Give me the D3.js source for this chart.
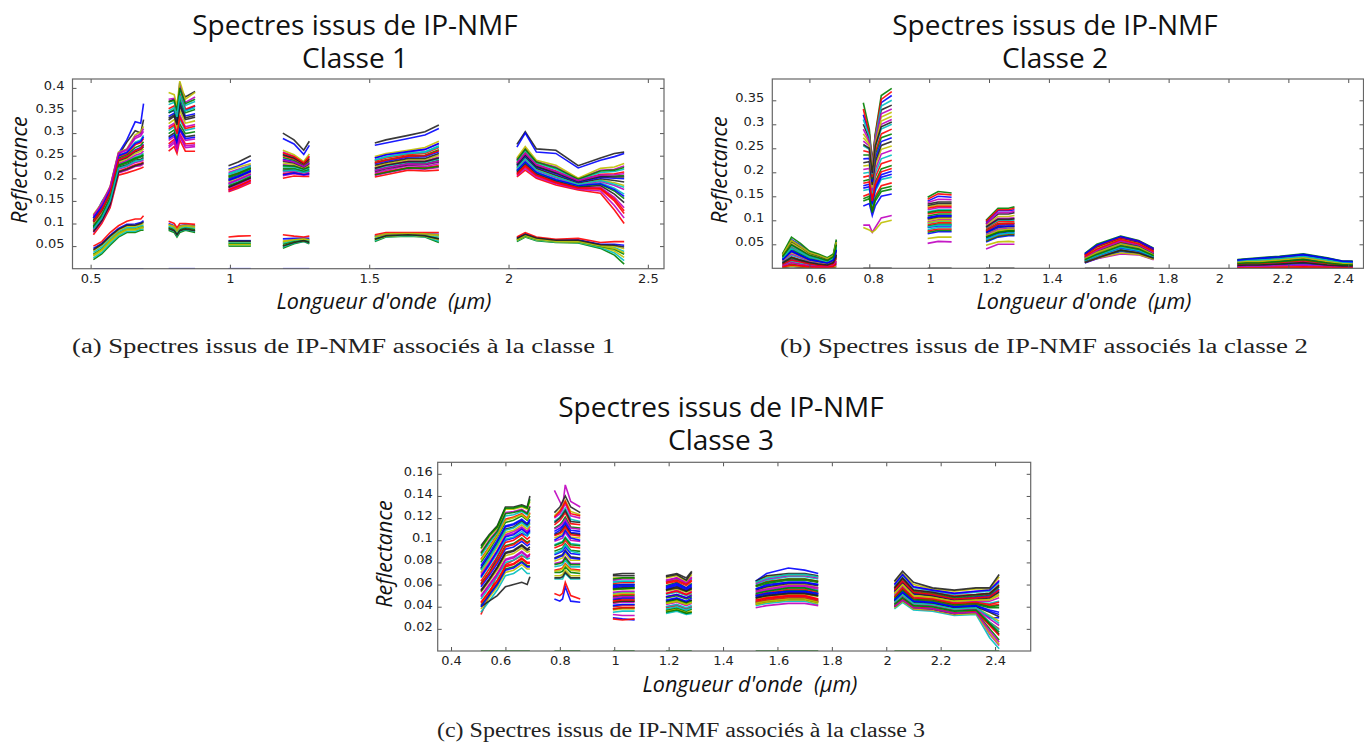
<!DOCTYPE html>
<html lang="fr">
<head>
<meta charset="utf-8">
<title>Spectres issus de IP-NMF</title>
<script src="https://cdn.jsdelivr.net/npm/d3@7/dist/d3.min.js"></script>
<style>
html,body{margin:0;padding:0;background:#fff;overflow:hidden}
svg{display:block}
.tick text{font-family:"DejaVu Sans",sans-serif;font-size:13px;fill:#222}
.tick line{stroke:#555;stroke-width:1}
.title{font-family:"Open Sans",sans-serif;font-size:28px;fill:#111;text-anchor:middle}
.axlabel{font-family:"Open Sans",sans-serif;font-style:italic;font-size:21.5px;fill:#111}
.caption{font-family:"Liberation Serif",serif;font-size:20px;fill:#222}
</style>
</head>
<body>
<svg id="chart" width="1364" height="742"></svg>
<script>
// Wavelengths (µm) of the sampled points, one list per spectral band
const bandWavelengths = [
  [0.51,0.54,0.57,0.60,0.63,0.66,0.68,0.69],
  [0.78,0.80,0.81,0.82,0.84,0.875],
  [0.995,1.03,1.075],
  [1.19,1.23,1.265,1.285],
  [1.52,1.56,1.64,1.70,1.75],
  [2.03,2.06,2.10,2.17,2.25,2.33,2.38,2.415]
];
// Line colours cycle
const lineColors = ["#0000ff","#008000","#ff0000","#00bfbf","#bf00bf","#bfbf00","#222222"];

const titleLine1 = "Spectres issus de IP-NMF";
const classTitles = ["Classe 1","Classe 2","Classe 3"];
const xAxisLabel = "Longueur d'onde  (μm)";
const yAxisLabel = "Reflectance";
const captions = [
  "(a) Spectres issus de IP-NMF associés à la classe 1",
  "(b) Spectres issus de IP-NMF associés la classe 2",
  "(c) Spectres issus de IP-NMF associés à la classe 3"
];

const xTicks1 = [0.5,1,1.5,2,2.5];
const yTicks1 = [0.05,0.1,0.15,0.2,0.25,0.3,0.35,0.4];
const xTicks2 = [0.6,0.8,1,1.2,1.4,1.6,1.8,2,2.2,2.4];
const yTicks2 = [0.05,0.1,0.15,0.2,0.25,0.3,0.35];
const xTicks3 = [0.4,0.6,0.8,1,1.2,1.4,1.6,1.8,2,2.2,2.4];
const yTicks3 = [0.02,0.04,0.06,0.08,0.1,0.12,0.14,0.16];

// Spectra: reflectance in thousandths, 34 samples each
const spectraClasse1 = [
[0,0,0,0,0,0,0,0,0,0,0,0,0,0,0,0,0,0,0,0,0,0,0,0,0,0,0,0,0,0,0,0,0,0],
[20,33,52,70,80,80,85,85,85,80,70,80,85,80,50,50,50,45,55,60,55,60,70,72,70,58,60,70,62,58,57,45,30,10],
[75,100,135,207,212,218,222,225,260,270,255,285,260,260,170,178,190,200,205,204,204,203,208,218,216,218,203,218,200,185,174,167,130,100],
[24,36,56,73,83,83,88,88,88,83,73,83,87,83,52,52,52,48,57,61,57,62,71,73,71,61,62,71,63,59,58,47,35,18],
[80,104,140,212,218,226,228,232,268,278,262,292,268,270,172,180,193,206,210,207,208,206,212,222,220,224,206,222,203,188,176,172,140,112],
[28,40,60,76,86,86,90,90,90,85,76,85,89,85,54,54,54,51,59,62,59,64,72,74,72,64,63,72,64,60,59,49,39,25],
[105,140,176,250,280,305,300,330,370,375,345,400,380,392,228,236,250,300,285,262,282,278,285,295,303,318,275,303,265,262,228,245,255,258],
[112,148,178,255,285,325,322,365,345,350,330,412,350,360,220,228,240,288,276,253,273,273,278,288,296,310,269,300,258,255,223,240,248,255],
[32,44,63,79,88,88,92,93,92,87,78,87,91,87,56,56,56,54,61,63,61,66,73,75,73,67,64,73,65,61,60,50,43,32],
[84,108,144,216,222,230,233,236,276,286,268,298,276,278,175,184,196,210,213,209,211,209,215,224,224,228,208,226,206,190,178,176,150,122],
[36,48,66,82,91,91,95,96,94,90,80,90,93,90,58,58,58,57,63,65,63,68,74,76,74,70,65,74,66,61,61,51,47,38],
[86,110,148,220,226,235,238,240,284,292,275,305,284,287,178,187,199,214,216,212,214,212,218,228,226,232,211,229,208,192,180,180,158,135],
[40,52,70,85,94,94,98,100,97,92,83,92,95,92,60,60,60,61,65,66,65,70,76,77,76,73,66,75,67,62,62,52,50,44],
[90,114,151,224,230,240,242,246,292,300,282,312,292,295,181,190,202,218,219,214,217,215,221,230,230,236,213,232,210,194,181,184,165,146],
[45,56,74,89,98,99,102,106,100,95,86,95,97,95,62,62,62,66,67,68,67,72,77,78,77,76,68,77,68,63,64,54,54,52],
[92,116,154,227,234,243,247,250,299,307,288,320,299,303,184,192,205,222,222,216,220,218,224,233,232,240,216,235,212,196,183,187,172,155],
[50,60,80,95,105,110,110,117,105,100,90,100,100,98,70,72,73,75,72,70,72,75,80,80,80,80,70,80,70,65,67,58,60,60],
[95,120,157,230,237,247,251,255,306,314,295,330,306,311,187,195,208,226,225,219,223,220,227,236,235,243,218,238,214,198,184,190,178,165],
[98,122,160,233,240,251,255,260,314,322,302,340,314,319,190,198,210,230,228,221,226,223,230,238,238,247,221,241,217,201,186,193,184,175],
[100,125,163,236,243,255,260,265,321,330,310,350,322,327,193,201,213,234,231,223,229,226,232,241,241,251,224,244,220,204,188,196,190,184],
[103,128,166,239,246,259,264,270,329,337,318,360,330,335,196,204,216,238,234,225,232,229,235,244,244,255,226,247,222,207,190,199,195,192],
[105,131,169,242,249,263,268,275,337,344,325,370,338,343,199,206,218,242,237,227,235,232,238,247,248,259,229,250,225,210,192,202,200,199],
[108,134,172,245,252,268,273,281,345,352,333,378,345,352,202,209,221,246,240,229,238,235,241,250,251,263,232,253,228,213,194,205,205,206],
[111,137,175,248,255,274,279,288,354,360,340,388,353,361,205,212,224,250,243,231,241,238,245,253,255,268,235,257,231,216,196,209,210,214],
[113,139,177,251,258,280,285,295,363,368,347,396,361,370,208,215,226,254,246,233,245,241,248,256,259,272,238,261,234,220,197,213,215,220],
[116,142,180,255,262,288,294,304,375,377,354,405,368,380,213,220,229,258,249,235,250,245,252,259,264,277,242,266,237,225,199,218,220,227],
[120,145,182,258,265,296,303,315,390,385,360,415,375,390,218,225,232,262,252,237,254,248,255,262,268,282,245,270,240,229,200,222,225,233],
[82,106,142,214,220,228,231,234,333,340,322,365,334,339,180,189,201,252,245,232,243,222,229,237,237,245,230,252,226,212,193,204,203,203],
[112,138,176,250,257,277,282,292,288,296,278,308,288,291,195,203,215,208,212,208,210,245,252,259,264,277,217,236,213,197,184,188,175,160],
[94,118,156,229,236,245,249,252,369,372,350,400,365,375,204,211,223,228,227,220,225,208,213,223,222,226,240,264,236,223,198,216,218,224],
[104,130,168,241,248,261,266,273,310,318,298,335,310,315,174,182,195,256,248,234,248,234,240,249,250,261,210,228,207,191,179,178,154,128],
[88,112,150,222,228,238,240,243,349,356,336,383,349,356,210,218,228,216,218,213,216,240,247,255,257,270,222,243,218,203,187,195,187,180],
[118,143,181,256,264,292,298,310,272,282,265,295,272,274,188,197,209,240,236,226,234,217,223,232,231,238,234,255,230,215,195,207,208,210],
[30,42,62,78,87,87,91,92,98,94,85,94,96,94,53,53,53,59,64,66,64,71,77,78,77,75,64,74,66,61,60,51,45,35],
[42,54,72,87,96,96,100,103,89,84,75,84,88,84,61,61,61,50,58,62,58,65,73,75,73,66,67,76,68,63,63,53,52,48]
];
const spectraClasse2 = [
[2,5,3,2,1,1,3,8,130,135,110,130,150,155,72,76,76,55,65,68,68,11,20,35,30,19,1,2,2,3,4,2,1,1],
[4,9,6,4,3,2,5,12,140,145,116,140,160,165,75,79,79,57,67,70,70,12,22,37,32,20,2,3,3,4,5,3,2,2],
[6,12,9,6,4,3,7,16,150,155,122,150,172,178,78,82,82,59,69,72,72,13,23,39,33,21,3,4,4,5,7,4,3,3],
[7,15,11,8,5,4,8,20,162,165,130,160,185,190,81,85,85,61,71,74,74,14,25,41,35,22,4,5,5,7,8,5,4,3],
[3,6,4,2,2,1,2,5,90,90,75,85,105,110,52,56,55,40,50,50,50,12,20,30,28,18,2,3,3,3,4,2,2,2],
[2,5,3,2,1,1,2,4,85,80,75,80,95,100,62,65,65,48,55,56,55,13,21,32,29,19,1,2,2,3,3,2,1,1],
[0,0,0,0,0,0,0,0,0,0,0,0,0,0,0,0,0,0,0,0,0,0,0,0,0,0,0,0,0,0,0,0,0,0],
[9,18,14,9,7,5,10,24,172,175,136,170,195,202,85,88,88,63,73,76,76,15,26,43,36,23,5,6,6,8,10,6,4,4],
[10,21,16,11,8,6,11,27,182,185,143,180,207,214,88,92,92,65,75,78,78,16,27,45,38,24,6,7,7,9,12,7,5,5],
[12,24,18,12,10,7,12,30,190,193,150,190,218,225,91,95,95,67,77,80,80,17,28,46,39,25,7,8,8,10,13,8,6,5],
[13,27,21,14,11,8,14,33,198,200,156,198,228,236,94,98,98,69,79,82,82,18,30,48,41,26,8,9,9,11,15,9,6,6],
[15,30,23,15,12,9,15,35,206,208,162,206,238,246,97,101,101,71,82,84,84,19,31,49,42,27,8,10,10,12,16,10,7,6],
[16,33,25,17,13,10,16,37,213,215,168,214,248,255,100,104,104,73,84,86,86,20,32,50,44,28,9,11,11,13,18,11,7,7],
[18,36,27,18,15,11,17,39,220,222,174,222,256,264,103,107,107,75,87,88,88,21,33,52,45,29,10,12,12,15,19,12,8,8],
[19,38,29,20,16,12,19,41,228,229,180,230,264,272,106,110,110,77,90,91,91,22,35,53,46,30,11,13,13,16,20,13,9,8],
[21,41,31,22,18,13,20,43,236,236,186,238,272,280,109,113,113,80,93,94,94,23,36,55,48,32,12,14,14,17,22,14,10,9],
[22,44,34,24,19,14,21,45,245,242,190,244,280,290,113,117,117,83,97,97,97,24,38,56,49,33,13,15,15,18,23,15,10,10],
[23,47,36,26,21,15,23,47,255,248,196,252,290,300,118,122,122,85,100,100,100,25,39,58,50,34,14,16,16,19,24,16,11,11],
[25,50,39,28,23,16,24,50,265,255,200,258,300,310,122,126,126,88,104,104,105,26,41,59,52,35,15,17,17,20,25,17,12,12],
[26,53,42,30,25,18,26,52,280,262,206,265,315,325,128,132,132,90,108,108,110,27,43,61,53,36,16,18,18,21,26,18,13,13],
[27,56,45,32,26,19,27,54,300,270,210,270,330,340,134,138,138,93,113,113,116,28,45,63,55,38,17,18,19,22,27,19,14,13],
[29,60,48,34,28,20,28,57,320,280,215,275,345,360,140,150,148,96,120,120,122,29,47,65,56,39,17,19,20,24,28,21,14,14],
[30,65,52,36,30,22,30,60,345,290,220,280,360,375,148,160,157,100,125,125,128,31,50,67,58,42,18,20,22,25,30,22,15,15],
[8,17,13,9,6,5,9,22,332,280,218,277,352,368,144,155,153,98,122,122,125,28,46,64,57,40,8,10,10,12,16,10,7,6],
[21,42,33,23,19,14,21,44,310,275,212,272,338,350,86,90,90,60,70,73,73,16,26,44,37,24,15,17,17,20,25,17,12,12],
[5,12,8,5,3,3,5,14,290,265,208,267,322,332,137,144,143,92,116,116,119,23,37,57,49,33,3,4,4,5,7,4,3,3],
[28,58,46,33,27,20,27,55,272,258,203,261,307,317,95,99,99,68,78,81,81,20,33,51,44,28,12,14,14,17,22,14,10,9],
[11,23,17,12,9,7,12,28,258,250,198,255,295,305,131,135,135,86,102,102,103,12,21,38,32,21,6,7,7,9,12,7,5,5],
[17,35,26,18,14,11,17,38,167,170,133,165,190,196,105,109,109,74,85,87,87,30,48,66,57,41,17,19,21,24,29,21,15,14],
[24,49,38,27,22,16,24,49,145,150,119,145,166,171,116,120,120,65,75,78,78,18,29,47,40,26,10,11,11,14,18,11,8,7],
[3,7,5,3,2,2,4,10,177,180,140,175,201,208,125,129,129,78,92,93,93,25,40,60,51,35,1,1,1,2,3,2,1,1]
];
const spectraClasse3 = [
[60,70,85,100,102,106,104,108,47,45,47,58,45,44,30,29,28,45,47,44,46,50,52,54,54,52,45,52,44,43,39,40,30,30],
[0,0,0,0,0,0,0,0,0,0,0,0,0,0,0,0,0,0,0,0,0,0,0,0,0,0,0,0,0,0,0,0,0,0],
[33,50,70,78,82,86,84,88,52,50,52,62,50,47,29,28,29,36,38,34,35,42,44,46,46,44,42,50,42,41,37,38,26,20],
[35,45,55,68,70,75,70,70,65,65,65,70,65,65,35,36,36,34,36,33,34,41,43,45,45,42,38,44,37,36,32,33,12,2],
[70,80,90,105,108,112,108,112,145,135,130,150,135,130,33,32,32,40,42,38,40,39,41,43,43,41,40,46,38,37,33,35,15,5],
[38,48,58,71,73,78,74,74,68,68,69,73,68,68,37,38,38,36,38,35,36,42,44,46,46,43,39,45,38,37,33,34,16,6],
[40,45,50,58,60,62,60,67,66,66,67,71,66,66,69,70,70,68,70,66,72,44,46,48,48,45,40,47,40,38,34,36,24,15],
[75,86,98,112,114,118,114,118,106,109,112,115,107,106,57,58,58,56,59,55,58,63,70,75,73,70,53,62,51,50,46,48,49,54],
[41,51,61,74,76,81,77,77,71,71,72,76,71,70,38,39,39,37,39,36,38,43,45,47,47,44,40,46,39,38,34,35,20,10],
[44,54,64,77,79,84,80,80,73,74,75,79,74,73,40,41,41,39,41,38,40,44,46,48,48,45,41,47,40,39,35,36,23,14],
[47,57,67,80,82,87,83,84,76,77,78,82,76,76,41,42,42,40,42,39,41,45,47,49,49,46,42,49,41,40,36,37,26,19],
[50,60,70,83,85,90,86,87,79,80,81,85,79,79,43,44,44,42,44,41,43,46,48,50,50,47,43,50,42,41,37,38,29,23],
[53,63,73,86,88,93,89,90,81,83,84,88,82,82,44,45,45,43,45,42,44,47,49,51,51,49,44,51,43,42,38,39,32,27],
[55,65,76,89,91,96,92,94,84,86,87,91,85,84,46,47,47,45,47,44,46,48,50,52,52,50,45,52,44,43,39,40,35,31],
[58,68,79,92,94,99,95,97,87,89,90,94,88,87,47,48,48,46,48,45,48,49,51,53,53,51,46,54,45,44,40,41,37,35],
[61,71,82,95,97,102,98,100,90,92,93,97,91,90,49,50,50,48,50,47,49,50,52,55,55,52,47,55,46,45,41,42,39,39],
[63,74,85,98,100,105,101,103,93,95,96,100,94,93,50,51,51,49,51,48,51,51,53,56,56,53,49,56,47,46,42,43,41,42],
[66,77,88,101,103,108,104,107,96,98,99,103,97,96,52,53,53,51,53,50,52,52,54,57,57,55,50,58,48,47,43,44,43,45],
[68,79,91,104,106,111,107,110,99,101,102,107,100,99,53,54,54,52,55,51,54,53,55,58,58,56,51,59,49,48,44,45,45,48],
[71,82,94,107,109,114,110,113,102,104,106,110,103,102,55,56,56,54,56,53,55,54,57,60,60,57,52,60,50,49,45,46,47,51],
[74,85,97,110,112,117,113,116,105,107,110,113,106,105,56,57,57,55,58,54,57,55,58,61,61,59,54,62,52,50,46,47,48,53],
[77,88,100,113,115,119,115,119,108,111,113,117,109,108,58,59,59,57,60,56,59,56,60,62,62,60,55,63,53,51,47,49,50,56],
[80,91,103,116,118,122,118,122,111,114,117,121,112,111,60,60,60,59,62,57,61,58,61,64,64,62,56,65,54,52,48,50,51,58],
[83,94,105,119,121,124,120,125,114,118,121,125,115,114,61,62,62,61,63,59,63,59,63,65,65,63,57,66,55,53,50,51,52,60],
[86,97,107,122,123,126,123,128,117,121,125,129,119,117,63,63,63,62,65,60,65,60,64,67,67,65,59,68,57,54,51,53,54,62],
[89,100,109,125,126,128,125,131,120,124,128,133,122,120,64,65,65,64,66,62,67,61,65,68,68,66,60,69,58,55,52,54,55,64],
[92,103,111,128,128,130,128,135,122,127,131,136,126,123,66,66,66,66,68,63,69,62,67,69,69,67,62,70,60,56,54,56,56,67],
[95,105,113,130,130,132,130,140,125,130,135,140,130,125,68,68,68,67,69,64,71,63,68,70,70,68,63,72,62,57,55,57,57,69],
[40,50,60,73,75,80,76,76,100,103,104,109,102,100,41,42,42,58,61,57,60,50,52,54,54,52,60,69,58,55,52,54,55,63],
[88,99,108,124,125,127,124,130,78,79,80,84,78,78,56,56,57,44,46,43,45,59,62,65,65,63,48,56,47,46,42,43,40,41],
[60,70,81,94,96,101,97,99,121,126,130,135,124,122,38,39,39,52,54,51,53,45,47,49,49,46,55,63,53,51,47,48,49,55],
[73,84,96,109,111,116,112,115,88,90,92,96,90,88,62,63,63,38,40,37,39,62,66,69,69,67,44,51,43,42,38,39,31,25],
[49,59,69,82,84,89,85,86,110,113,115,119,111,110,48,49,49,63,66,61,66,54,56,59,59,57,40,46,39,38,34,35,18,8],
[82,93,104,118,120,123,119,124,72,73,74,78,73,72,51,52,52,43,45,42,44,43,45,47,47,44,52,60,50,48,45,46,46,50],
[54,64,75,88,90,95,91,92,116,120,123,127,117,116,44,45,45,55,57,54,56,48,50,52,52,50,57,66,55,53,49,51,52,59],
[67,78,90,103,105,110,106,109,83,85,86,90,84,83,59,60,60,49,51,48,50,56,59,62,62,60,46,53,45,44,40,41,36,33],
[93,104,112,129,129,131,129,137,95,97,98,102,96,95,65,66,66,35,37,34,35,52,54,57,57,54,42,48,41,40,36,37,25,17],
[43,53,63,76,78,83,79,79,104,106,108,112,105,104,45,46,46,62,64,60,64,46,48,50,50,47,49,57,48,47,43,44,42,44]
];

const svg = d3.select("#chart");
const defs = svg.append("defs");
defs.append("filter").attr("id","soft")
  .attr("x","-5%").attr("y","-5%").attr("width","110%").attr("height","110%")
  .append("feGaussianBlur").attr("stdDeviation",0.45);

function drawPanel(opts){
  const {left,right,top,bottom,xd,yd,xTicks,yTicks,spectra,idx,xLabelDx,padLeft,
         titleX,titleY,xLabelX,xLabelY,yLabelX,yLabelY,capX,capY,capW} = opts;
  const x = d3.scaleLinear().domain(xd).range([left,right]);
  const y = d3.scaleLinear().domain(yd).range([bottom,top]);
  const g = svg.append("g");

  const clipId = "clip"+idx;
  defs.append("clipPath").attr("id",clipId).append("rect")
    .attr("x",left).attr("y",top).attr("width",right-left).attr("height",bottom-top);

  const line = d3.line().x(d=>x(d[0])).y(d=>y(d[1]/1000));
  const marks = g.append("g").attr("clip-path",`url(#${clipId})`)
    .append("g").attr("filter","url(#soft)");
  spectra.forEach((row,i)=>{
    let offset = 0;
    bandWavelengths.forEach(band=>{
      const pts = band.map((w,k)=>[w,row[offset+k]]);
      offset += band.length;
      marks.append("path").attr("d",line(pts)).attr("fill","none")
        .attr("stroke",lineColors[i%lineColors.length])
        .attr("stroke-width",1.6).attr("stroke-opacity",0.9);
    });
  });

  const fmt = d=>String(d);
  const ax = g.append("g").attr("transform",`translate(0,${bottom})`)
    .call(d3.axisBottom(x).tickValues(xTicks).tickFormat(fmt).tickSizeInner(-4).tickSizeOuter(0).tickPadding(5));
  ax.select(".domain").remove();
  ax.selectAll(".tick text").attr("dx",(d,i)=>xLabelDx ? xLabelDx[i] : 0);
  const axt = g.append("g").attr("transform",`translate(0,${top})`)
    .call(d3.axisTop(x).tickValues(xTicks).tickFormat("").tickSizeInner(-4).tickSizeOuter(0));
  axt.select(".domain").remove();
  const ay = g.append("g").attr("transform",`translate(${left},0)`)
    .call(d3.axisLeft(y).tickValues(yTicks).tickFormat(fmt).tickSizeInner(-4).tickSizeOuter(0).tickPadding(padLeft));
  ay.select(".domain").remove();
  ay.selectAll(".tick text").attr("dy","0.12em");
  const ayr = g.append("g").attr("transform",`translate(${right},0)`)
    .call(d3.axisRight(y).tickValues(yTicks).tickFormat("").tickSizeInner(-4).tickSizeOuter(0));
  ayr.select(".domain").remove();

  g.append("rect").attr("x",left).attr("y",top).attr("width",right-left).attr("height",bottom-top)
    .attr("fill","none").attr("stroke","#666").attr("stroke-width",1.2);

  g.append("text").attr("class","title").attr("x",titleX).attr("y",titleY).text(titleLine1);
  g.append("text").attr("class","title").attr("x",titleX).attr("y",titleY+32.5).text(classTitles[idx]);
  g.append("text").attr("class","axlabel").attr("x",xLabelX).attr("y",xLabelY)
    .attr("text-anchor","middle").style("white-space","pre").text(xAxisLabel);
  g.append("text").attr("class","axlabel").attr("text-anchor","middle")
    .attr("transform",`translate(${yLabelX},${yLabelY}) rotate(-90)`).text(yAxisLabel);
  g.append("text").attr("class","caption").attr("x",capX).attr("y",capY)
    .attr("textLength",capW).attr("lengthAdjust","spacingAndGlyphs").text(captions[idx]);
}

drawPanel({idx:0,left:72.5,right:664,top:79,bottom:268.7,xd:[0.435,2.558],yd:[0,0.4197],
  xTicks:xTicks1,yTicks:yTicks1,spectra:spectraClasse1,padLeft:8,
  titleX:355,titleY:35,xLabelX:384,xLabelY:309,yLabelX:27,yLabelY:170,capX:72,capY:353,capW:543});
drawPanel({idx:1,left:772.3,right:1363.5,top:79,bottom:268.3,xd:[0.476,2.451],yd:[0,0.3944],
  xTicks:xTicks2,yTicks:yTicks2,spectra:spectraClasse2,padLeft:8,
  xLabelDx:[6,4,1,3,3,-2,-1,-9,-6,-5],
  titleX:1055,titleY:35,xLabelX:1084,xLabelY:309,yLabelX:727,yLabelY:170,capX:780,capY:353,capW:528});
drawPanel({idx:2,left:437.7,right:1030.7,top:462.3,bottom:651,xd:[0.351,2.531],yd:[0,0.1704],
  xTicks:xTicks3,yTicks:yTicks3,spectra:spectraClasse3,padLeft:5,
  xLabelDx:[0,-5,0,1,0,0,1,0,1,0,0],
  titleX:721,titleY:417,xLabelX:750,xLabelY:692,yLabelX:392,yLabelY:554,capX:437,capY:737,capW:488});
</script>
</body>
</html>
